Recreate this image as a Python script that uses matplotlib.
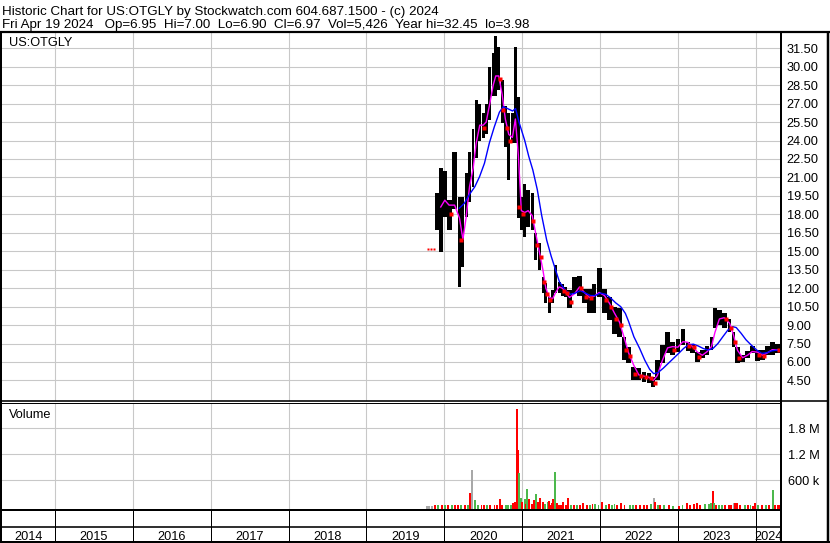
import matplotlib
matplotlib.use("Agg")
import matplotlib.pyplot as plt
import matplotlib.dates as mdates
import numpy as np
import pandas as pd

plt.rcParams['font.family'] = ['Liberation Sans', 'DejaVu Sans']

# ---- text ----
title_line = "Historic Chart for US:OTGLY by Stockwatch.com 604.687.1500 - (c) 2024"
quote_line = "Fri Apr 19 2024   Op=6.95  Hi=7.00  Lo=6.90  Cl=6.97  Vol=5,426  Year hi=32.45  lo=3.98"
symbol = "US:OTGLY"

# ---- data ----
early_dates = ["2019-10-17", "2019-10-31", "2019-11-14"]
early_price = [15.2, 15.2, 15.2]

bar_dates = ["2019-11-29", "2019-12-16", "2020-01-04", "2020-01-24", "2020-02-19", "2020-03-13",
             "2020-03-29", "2020-04-13", "2020-04-29", "2020-05-16", "2020-05-30", "2020-06-16",
             "2020-07-02", "2020-07-16", "2020-08-02", "2020-08-18", "2020-08-30", "2020-09-13",
             "2020-09-29", "2020-10-14", "2020-10-30", "2020-11-16", "2020-11-30", "2020-12-14",
             "2020-12-28", "2021-01-13", "2021-01-29", "2021-02-17", "2021-03-05", "2021-03-22",
             "2021-04-08", "2021-04-22", "2021-05-08", "2021-05-24", "2021-06-07", "2021-06-23",
             "2021-07-09", "2021-07-23", "2021-08-11", "2021-09-04", "2021-09-27", "2021-10-20",
             "2021-11-12", "2021-12-05", "2021-12-28", "2022-01-22", "2022-02-15", "2022-03-09",
             "2022-04-02", "2022-04-24", "2022-05-15", "2022-06-08", "2022-07-02", "2022-07-26",
             "2022-08-19", "2022-09-08", "2022-09-27", "2022-10-21", "2022-11-14", "2022-12-08",
             "2023-01-01", "2023-01-25", "2023-02-17", "2023-03-11", "2023-04-03", "2023-04-26",
             "2023-05-19", "2023-06-08", "2023-06-24", "2023-07-15", "2023-08-07", "2023-09-01",
             "2023-09-19", "2023-10-08", "2023-11-01", "2023-11-24", "2023-12-16", "2024-01-10",
             "2024-02-02", "2024-02-26", "2024-03-19", "2024-04-12"]
bar_high = [19.7, 21.8, 21.5, 19.2, 23.1, 19.4, 19.4, 21.4, 23.1, 24.9, 27.3, 27.0,
            26.2, 27.0, 30.0, 31.1, 32.5, 31.6, 28.9, 26.8, 26.2, 26.2, 31.6, 27.5,
            19.4, 20.5, 20.0, 19.7, 16.5, 15.7, 12.9, 12.4, 11.3, 11.85, 13.9, 12.5,
            12.3, 12.1, 11.85, 12.9, 13.0, 11.9, 11.9, 12.3, 13.6, 11.9, 11.3, 10.5,
            10.4, 8.0, 7.2, 5.6, 5.5, 5.2, 5.1, 4.8, 6.2, 7.4, 8.4, 7.6,
            7.9, 8.7, 7.6, 7.5, 6.8, 7.0, 7.3, 8.0, 10.4, 10.2, 10.0, 9.5,
            8.4, 7.2, 6.6, 6.9, 7.3, 7.0, 7.0, 7.3, 7.6, 7.5]
bar_low = [16.7, 14.9, 17.8, 16.7, 18.4, 12.1, 13.7, 17.8, 19.0, 20.2, 22.6, 24.0,
           24.2, 24.5, 25.7, 27.6, 27.6, 28.1, 25.4, 23.5, 20.8, 23.8, 23.8, 17.7,
           16.7, 16.2, 17.0, 16.7, 14.3, 13.5, 11.6, 10.8, 9.95, 10.8, 11.6, 11.6,
           11.4, 11.3, 10.4, 11.6, 11.4, 10.8, 10.0, 10.0, 11.3, 10.0, 9.4, 8.3,
           8.0, 6.2, 5.9, 4.5, 4.5, 4.4, 4.3, 3.95, 4.5, 5.9, 6.7, 6.6,
           6.8, 7.4, 6.9, 6.7, 6.0, 6.3, 6.6, 6.95, 8.8, 9.0, 8.8, 8.4,
           7.2, 5.9, 6.0, 6.3, 6.7, 6.1, 6.2, 6.6, 6.6, 6.7]
bar_close = [18.4, 18.8, 19.5, 18.0, 19.5, 15.9, 16.0, 19.5, 21.0, 22.5, 25.0, 25.5,
             25.0, 26.0, 28.0, 29.0, 29.5, 29.0, 26.5, 25.0, 24.0, 24.5, 27.0, 18.6,
             18.0, 18.3, 18.3, 17.5, 15.5, 14.5, 12.5, 11.5, 11.0, 11.3, 12.0, 12.2,
             11.8, 11.6, 10.9, 12.2, 12.0, 11.3, 11.2, 11.5, 11.8, 11.0, 10.5, 9.5,
             9.0, 7.0, 6.5, 5.0, 4.9, 4.8, 4.7, 4.3, 5.5, 6.8, 7.5, 7.0,
             7.4, 7.9, 7.3, 7.2, 6.4, 6.7, 7.0, 7.5, 9.3, 9.7, 9.5, 8.8,
             7.6, 6.3, 6.4, 6.7, 7.0, 6.6, 6.5, 7.0, 7.0, 6.97]

# slow moving average (blue), read directly
ma_long_dates = ["2020-03-12", "2020-04-05", "2020-04-28", "2020-05-24", "2020-06-15", "2020-07-08",
                 "2020-07-31", "2020-08-23", "2020-09-16", "2020-10-04", "2020-10-24", "2020-11-17",
                 "2020-12-01", "2020-12-17", "2021-01-13", "2021-02-01", "2021-02-20", "2021-03-13",
                 "2021-04-02", "2021-04-26", "2021-05-17", "2021-06-10", "2021-06-25", "2021-07-22",
                 "2021-08-15", "2021-09-07", "2021-09-30", "2021-10-25", "2021-11-17", "2021-12-10",
                 "2022-01-03", "2022-01-28", "2022-02-20", "2022-03-16", "2022-04-08", "2022-04-30",
                 "2022-05-15", "2022-06-09", "2022-07-06", "2022-07-30", "2022-08-22", "2022-09-10",
                 "2022-10-01", "2022-10-25", "2022-11-18", "2022-12-12", "2023-01-05", "2023-01-28",
                 "2023-02-20", "2023-03-15", "2023-04-07", "2023-04-30", "2023-05-23", "2023-06-15",
                 "2023-07-08", "2023-07-31", "2023-08-24", "2023-09-16", "2023-10-02", "2023-10-25",
                 "2023-11-17", "2023-12-10", "2024-01-06", "2024-01-29", "2024-02-22", "2024-03-16",
                 "2024-04-08", "2024-04-19"]
ma_long = [18.5, 18.9, 19.6, 20.25, 21.06, 22.15, 23.8, 25.1, 26.3, 26.75, 26.6, 26.4,
           26.6, 25.5, 24.0, 22.7, 21.6, 20.0, 17.95, 15.9, 14.6, 13.3, 12.5, 11.85,
           11.5, 11.6, 11.8, 11.6, 11.4, 11.4, 11.6, 11.5, 11.2, 10.8, 10.5, 9.95,
           9.3, 8.05, 7.1, 6.15, 5.4, 5.05, 5.15, 5.5, 5.9, 6.3, 6.7, 7.1,
           7.4, 7.45, 7.3, 7.1, 6.97, 7.1, 7.5, 8.05, 8.6, 8.87, 8.8, 8.33,
           7.8, 7.4, 6.97, 6.7, 6.75, 6.9, 6.97, 6.9]

vol_dates = ["2019-10-11", "2019-10-23", "2019-11-03", "2019-11-19", "2019-12-04", "2019-12-20",
             "2020-01-04", "2020-01-20", "2020-02-05", "2020-02-20", "2020-03-07", "2020-03-22",
             "2020-04-07", "2020-04-22", "2020-05-03", "2020-05-11", "2020-05-25", "2020-06-08",
             "2020-06-24", "2020-07-06", "2020-07-22", "2020-08-05", "2020-08-24", "2020-09-05",
             "2020-09-18", "2020-09-30", "2020-10-16", "2020-10-28", "2020-11-10", "2020-11-19",
             "2020-11-28", "2020-12-06", "2020-12-11", "2020-12-15", "2020-12-18", "2020-12-25",
             "2021-01-02", "2021-01-13", "2021-01-17", "2021-01-24", "2021-02-04", "2021-02-16",
             "2021-02-26", "2021-03-05", "2021-03-16", "2021-03-27", "2021-04-08", "2021-04-18",
             "2021-04-30", "2021-05-05", "2021-05-13", "2021-05-22", "2021-05-27", "2021-06-05",
             "2021-06-13", "2021-06-22", "2021-07-03", "2021-07-11", "2021-07-24", "2021-08-04",
             "2021-08-20", "2021-09-02", "2021-09-16", "2021-09-28", "2021-10-15", "2021-10-31",
             "2021-11-16", "2021-11-27", "2021-12-09", "2021-12-25", "2022-01-12", "2022-01-27",
             "2022-02-12", "2022-02-27", "2022-03-10", "2022-03-22", "2022-04-10", "2022-04-26",
             "2022-05-21", "2022-06-05", "2022-06-21", "2022-07-07", "2022-07-25", "2022-08-10",
             "2022-08-29", "2022-09-10", "2022-09-18", "2022-09-29", "2022-10-11", "2022-10-30",
             "2022-11-19", "2022-12-09", "2023-01-05", "2023-01-23", "2023-02-13", "2023-02-28",
             "2023-03-17", "2023-03-31", "2023-04-16", "2023-05-10", "2023-05-26", "2023-06-04",
             "2023-06-13", "2023-06-18", "2023-06-29", "2023-07-15", "2023-07-27", "2023-08-12",
             "2023-08-28", "2023-09-09", "2023-09-20", "2023-09-28", "2023-10-07", "2023-10-21",
             "2023-11-10", "2023-11-26", "2023-12-08", "2023-12-21", "2023-12-30", "2024-01-14",
             "2024-01-29", "2024-02-17", "2024-03-04", "2024-03-21", "2024-04-01", "2024-04-13",
             "2024-04-19"]
vol_k = [15, 15, 15, 20, 20, 25,
         20, 25, 20, 25, 30, 25,
         25, 20, 315, 838, 145, 20,
         25, 40, 25, 30, 35, 30,
         168, 30, 33, 40, 40, 70,
         107, 2250, 1300, 375, 760, 190,
         107, 170, 50, 400, 170, 50,
         145, 284, 107, 190, 107, 60,
         107, 130, 30, 70, 168, 790,
         70, 30, 40, 107, 40, 190,
         35, 40, 40, 35, 70, 35,
         40, 45, 55, 40, 106, 35,
         45, 40, 50, 30, 70, 40,
         40, 40, 20, 20, 35, 30,
         60, 200, 106, 35, 20, 20,
         20, 15, 15, 20, 70, 20,
         60, 85, 20, 55, 55, 70,
         360, 85, 30, 30, 25, 40,
         40, 25, 85, 70, 70, 20,
         35, 20, 35, 15, 75, 35,
         20, 20, 20, 375, 35, 35,
         35]
vol_dir = ["flat", "flat", "flat", "down", "up", "down",
           "up", "down", "up", "down", "down", "up",
           "down", "up", "down", "flat", "up", "up",
           "down", "down", "up", "down", "down", "down",
           "down", "down", "up", "up", "up", "down",
           "down", "down", "down", "down", "up", "up",
           "down", "up", "down", "up", "down", "down",
           "down", "up", "down", "down", "down", "up",
           "up", "down", "down", "down", "down", "up",
           "down", "down", "down", "down", "down", "down",
           "up", "down", "up", "down", "down", "down",
           "up", "down", "up", "up", "down", "up",
           "down", "up", "up", "down", "down", "down",
           "up", "up", "down", "down", "down", "down",
           "up", "flat", "down", "up", "down", "up",
           "down", "up", "down", "up", "down", "down",
           "down", "down", "down", "up", "up", "up",
           "down", "up", "down", "up", "up", "down",
           "down", "down", "flat", "down", "down", "down",
           "up", "down", "up", "down", "down", "up",
           "down", "up", "down", "up", "down", "down",
           "down"]

price_ticks = [4.5, 6.0, 7.5, 9.0, 10.5, 12.0, 13.5, 15.0, 16.5, 18.0, 19.5, 21.0,
               22.5, 24.0, 25.5, 27.0, 28.5, 30.0, 31.5]
vol_ticks = [600e3, 1.2e6, 1.8e6]
vol_tick_labels = ["600 k", "1.2 M", "1.8 M"]
years = list(range(2014, 2025))

# ---- figure layout in pixels ----
W, H = 830, 543
fig = plt.figure(figsize=(W / 100, H / 100), dpi=100)
fig.patch.set_facecolor("white")


def px_axes(x0, y0, x1, y1):
    return fig.add_axes([x0 / W, 1 - y1 / H, (x1 - x0) / W, (y1 - y0) / H])


ax_p = px_axes(2, 33, 781, 401)
ax_v = px_axes(2, 403, 781, 509)
ax_y = px_axes(2, 509, 781, 541)

x0 = mdates.date2num(pd.Timestamp("2014-04-28"))
x1 = mdates.date2num(pd.Timestamp("2024-04-29"))
year_starts = mdates.date2num(pd.to_datetime([f"{y}-01-01" for y in years[1:]]))
grid_col = "#c8c8c8"
px = 0.72  # one pixel in points

for ax in (ax_p, ax_v, ax_y):
    ax.set_xlim(x0, x1)
    for s in ax.spines.values():
        s.set_visible(False)
    ax.set_xticks(year_starts)
    ax.tick_params(axis="x", length=0, labelbottom=False)

# ---- price panel ----
bx = mdates.date2num(pd.to_datetime(bar_dates))
hi = np.array(bar_high)
lo = np.array(bar_low)
cl = np.array(bar_close)
gaps = np.append(np.diff(bx), np.diff(bx)[-1])
ax_p.bar(bx, hi - lo, bottom=lo, width=0.9 * gaps, color="black", zorder=2)

down = np.r_[False, cl[1:] < cl[:-1]]
ax_p.plot(bx[down] + 0.35 * gaps[down], cl[down], "s", color="#ff0000", ms=2.2, mec="none", zorder=4)
ax_p.plot(mdates.date2num(pd.to_datetime(early_dates)), early_price, "s",
          color="#ff0000", ms=2.0, mec="none", zorder=4)

ma_short = pd.Series(cl).rolling(2).mean()
ax_p.plot(bx, ma_short, color="#ff00ff", lw=1.0, zorder=3)
ax_p.plot(mdates.date2num(pd.to_datetime(ma_long_dates)), ma_long, color="#0000ff", lw=1.0, zorder=3)

ax_p.set_ylim(2.83, 32.74)
ax_p.set_yticks(price_ticks)
ax_p.set_yticklabels([f"{v:.2f}" for v in price_ticks])
ax_p.yaxis.tick_right()
ax_p.tick_params(axis="y", length=0, pad=4, labelsize=9.2)
ax_p.grid(True, color=grid_col, lw=1.1 * px)
ax_p.set_axisbelow(True)

# ---- volume panel ----
vx = mdates.date2num(pd.to_datetime(vol_dates))
vol = np.array(vol_k) * 1e3
dir_colors = {"up": "#4cb84c", "down": "#ff0000", "flat": "#a8a8a8"}
v_bottom = -62e3
ax_v.bar(vx, vol - v_bottom, bottom=v_bottom, width=9,
         color=[dir_colors[d] for d in vol_dir], zorder=2)
ax_v.set_ylim(v_bottom, 2.384e6)
ax_v.set_yticks(vol_ticks)
ax_v.set_yticklabels(vol_tick_labels)
ax_v.yaxis.tick_right()
ax_v.tick_params(axis="y", length=0, pad=5, labelsize=9.2)
ax_v.grid(True, color=grid_col, lw=1.1 * px)
ax_v.set_axisbelow(True)

# ---- year strip ----
ax_y.set_ylim(0, 32)
ax_y.set_yticks([])
ax_y.vlines(year_starts, 0, 32, color="black", lw=px)
edges = np.r_[x0, year_starts, x1]
for i, y in enumerate(years):
    ax_y.text((edges[i] + edges[i + 1]) / 2, 1.2, str(y), ha="center", va="baseline", fontsize=9.2)

# ---- frame lines and header text ----
ov = fig.add_axes([0, 0, 1, 1], zorder=10)
ov.set_xlim(0, W)
ov.set_ylim(H, 0)
ov.axis("off")
ov.patch.set_alpha(0)


def hline(y, xa, xb, w):
    ov.plot([xa, xb], [y, y], color="black", lw=w * px, solid_capstyle="butt")


def vline(x, ya, yb, w):
    ov.plot([x, x], [ya, yb], color="black", lw=w * px, solid_capstyle="butt")


hline(32, 0, 829.5, 2.2)
vline(1, 31, 542.5, 2)
vline(827.8, 31, 542.5, 2.5)
vline(781, 31, 542.5, 2)
hline(400.5, 0, 829, 1.6)
hline(403, 0, 781, 1)
hline(509.5, 0, 781, 2)
hline(526.5, 0, 781, 1.6)
hline(541.5, 0, 829.5, 2)

ov.text(2, 14.5, title_line, fontsize=9.65, va="baseline")
ov.text(2, 27.7, quote_line, fontsize=9.65, va="baseline")
ov.text(9, 46, symbol, fontsize=9.2, va="baseline")
ov.text(9, 418, "Volume", fontsize=9.2, va="baseline")

fig.savefig("out.png", dpi=100)
